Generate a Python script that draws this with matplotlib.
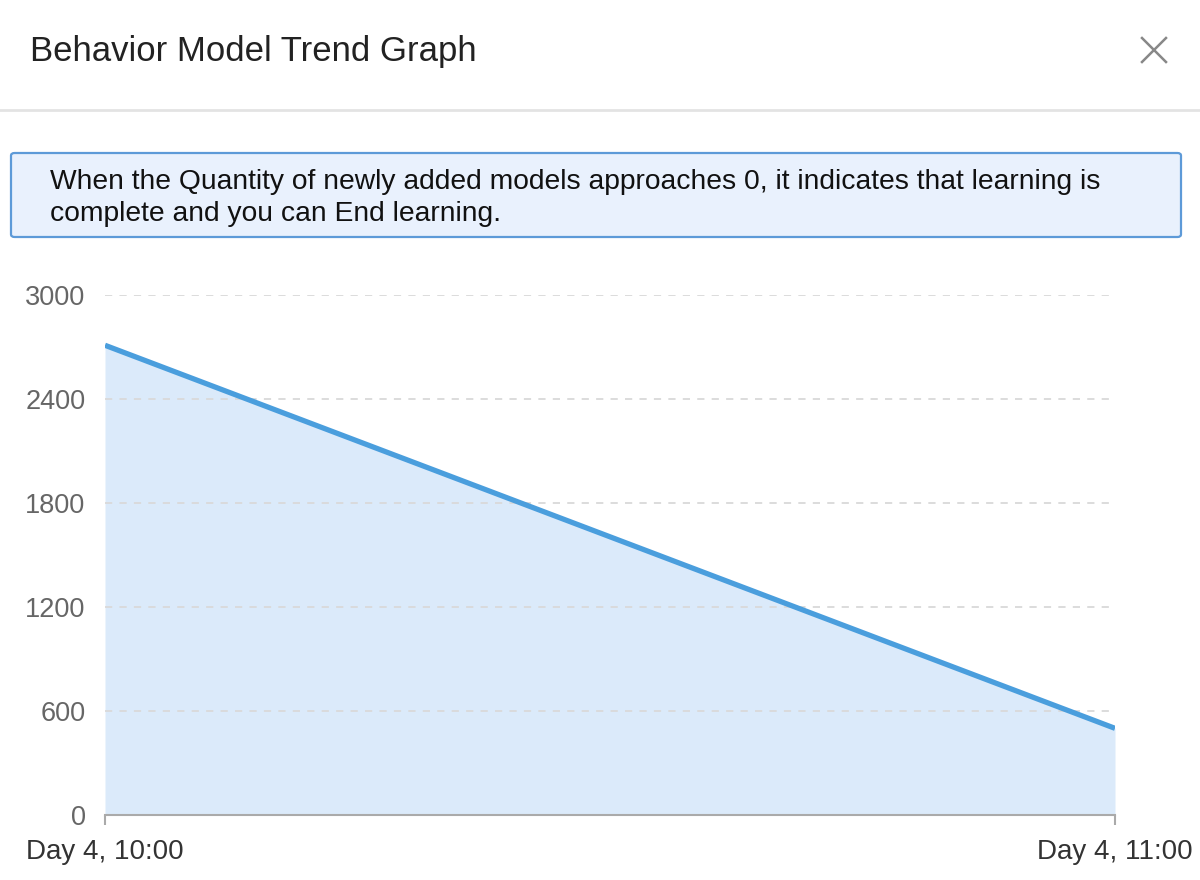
import matplotlib
matplotlib.use("Agg")
import matplotlib.pyplot as plt
from matplotlib.patches import FancyBboxPatch
from matplotlib.lines import Line2D

plt.rcParams['font.family'] = ['Liberation Sans', 'DejaVu Sans']

title = "Behavior Model Trend Graph"
notice = ("When the Quantity of newly added models approaches 0, it indicates that learning is\n"
          "complete and you can End learning.")
x_labels = ["Day 4, 10:00", "Day 4, 11:00"]
values = [2710, 500]
y_ticks = [0, 600, 1200, 1800, 2400, 3000]

W, H = 1200, 880
fig = plt.figure(figsize=(W / 100, H / 100), dpi=100)
fig.patch.set_facecolor("white")

def fx(px):
    return px / W

def fy(py):
    return 1 - py / H

# Header
fig.text(fx(30), fy(52), title, fontsize=25, color="#222222", va="center", ha="left")
fig.add_artist(Line2D([fx(1142), fx(1166)], [fy(38), fy(62)], color="#888888", lw=1.8))
fig.add_artist(Line2D([fx(1142), fx(1166)], [fy(62), fy(38)], color="#888888", lw=1.8))
fig.add_artist(Line2D([0, 1], [fy(110), fy(110)], color="#e3e3e3", lw=2))

# Notice box
box = FancyBboxPatch((fx(11), fy(237)), fx(1181) - fx(11), fy(153) - fy(237),
                     boxstyle="round,pad=0,rounding_size=0.003",
                     transform=fig.transFigure, facecolor="#e9f1fd",
                     edgecolor="#5d9ad8", lw=1.6)
fig.add_artist(box)
fig.text(fx(50), fy(198), notice, fontsize=20.3, color="#111111",
         va="center", ha="left", linespacing=1.33)

# Chart
ax = fig.add_axes([fx(105), fy(815), fx(1115) - fx(105), fy(295) - fy(815)])
xs = list(range(len(values)))
ax.fill_between(xs, values, 0, color="#dbeafa", lw=0, zorder=1)
for v in y_ticks[1:]:
    ax.axhline(v, color="#d9d9d9", lw=1.3, ls=(0, (4, 4)), zorder=1.5)
ax.plot(xs, values, color="#4a9edd", lw=3.8, solid_capstyle="butt", zorder=3)
ax.set_xlim(0, len(values) - 1)
ax.set_ylim(0, 3000)
ax.set_yticks(y_ticks)
ax.set_yticklabels([str(v) for v in y_ticks])
ax.set_xticks(xs)
ax.set_xticklabels(x_labels)
for s in ["top", "right", "left"]:
    ax.spines[s].set_visible(False)
ax.spines["bottom"].set_color("#aaaaaa")
ax.spines["bottom"].set_linewidth(1.5)
ax.tick_params(axis="y", length=0, pad=14, labelsize=19.5, labelcolor="#666666")
ax.tick_params(axis="x", length=7, width=1.5, color="#aaaaaa", pad=10,
               labelsize=20, labelcolor="#333333")
ax.set_facecolor("none")

fig.savefig("out.png", dpi=100, facecolor="white")
